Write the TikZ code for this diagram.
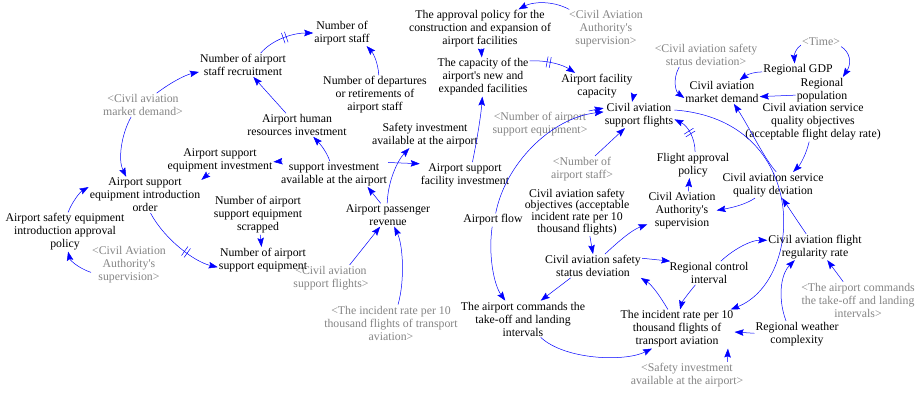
\documentclass[tikz,border=0pt]{standalone}
\usepackage{fontspec}
\setmainfont{Liberation Serif}
\usetikzlibrary{arrows.meta,decorations.markings}

\begin{document}
\begin{tikzpicture}[x=1pt,y=-1pt,
  var/.style={align=center, inner sep=1pt, font=\fontsize{11.8}{13}\selectfont},
  ghost/.style={var, text=black!48},
  arr/.style={draw=blue, line width=0.5pt, -{Stealth[length=9pt,width=6.5pt,inset=1.4pt]}},
  delaymark/.style={postaction={decorate, decoration={markings,
      mark=at position #1 with {\draw[-, blue, line width=0.5pt]
        (-1.6pt,-5.5pt) -- (-1.6pt,5.5pt) (1.6pt,-5.5pt) -- (1.6pt,5.5pt);}}}}
]
\fill[white] (0,0) rectangle (918,393);
\useasboundingbox (0,0) rectangle (918,393);

% ---------- variables ----------
\node[var] (nasr) at (243,65) {Number of airport\\staff recruitment};
\node[var] (nas) at (342,33) {Number of\\airport staff};
\node[var] (ndr) at (375,95) {Number of departures\\or retirements of\\airport staff};
\node[var] (hri) at (297,125) {Airport human\\resources investment};
\node[var] (asei) at (220,160) {Airport support\\equipment investment};
\node[var] (siaa) at (334,174) {support investment\\available at the airport};
\node[var] (aseio) at (145,195) {Airport support\\equipment introduction\\order};
\node[var] (asea) at (65,232) {Airport safety equipment\\introduction approval\\policy};
\node[var] (nases) at (258,215) {Number of airport\\support equipment\\scrapped};
\node[var] (nase) at (263,260) {Number of airport\\support equipment};
\node[var] (apr) at (388,215) {Airport passenger\\revenue};
\node[var] (sia) at (425,135) {Safety investment\\available at the airport};
\node[var] (asfi) at (465,175) {Airport support\\facility investment};
\node[var] (app) at (480,29) {The approval policy for the\\construction and expansion of\\airport facilities};
\node[var] (cap) at (483,77) {The capacity of the\\airport\textquotesingle s new and\\expanded facilities};
\node[var] (afc) at (597,86) {Airport facility\\capacity};
\node[var] (casf) at (639,115) {Civil aviation\\support flights};
\node[var] (af) at (493,220) {Airport flow};
\node[var] (fap) at (693,165) {Flight approval\\policy};
\node[var] (caas) at (682,211) {Civil Aviation\\Authority\textquotesingle s\\supervision};
\node[var, font=\fontsize{11.8}{9.7}\selectfont] (caso) at (577,212)
  {Civil aviation safety\\objectives (acceptable\\incident rate per 10\\thousand flights)};
\node[var] (cassd) at (593,266) {Civil aviation safety\\status deviation};
\node[var] (rci) at (709,273) {Regional control\\interval};
\node[var] (actl) at (523,319) {The airport commands the\\take-off and landing\\intervals};
\node[var] (ir) at (677,329) {The incident rate per 10\\thousand flights of\\transport aviation};
\node[var] (casqd) at (773,185) {Civil aviation service\\quality deviation};
\node[var] (casqo) at (813,122) {Civil aviation service\\quality objectives\\(acceptable flight delay rate)};
\node[var] (rp) at (822,90) {Regional\\population};
\node[var] (gdp) at (798,70) {Regional GDP};
\node[var] (cmd) at (722,92) {Civil aviation\\market demand};
\node[var] (cfr) at (815,247) {Civil aviation flight\\regularity rate};
\node[var] (rwc) at (797,334) {Regional weather\\complexity};

% ---------- shadow variables ----------
\node[ghost] (gmd) at (143,105) {<Civil aviation\\market demand>};
\node[ghost] (gcaasa) at (129,265) {<Civil Aviation\\Authority\textquotesingle s\\supervision>};
\node[ghost] (gcaasb) at (606,29) {<Civil Aviation\\Authority\textquotesingle s\\supervision>};
\node[ghost] (gsf) at (331,278) {<Civil aviation\\support flights>};
\node[ghost] (gir) at (391,323) {<The incident rate per 10\\thousand flights of transport\\aviation>};
\node[ghost] (gnase) at (540,124) {<Number of airport\\support equipment>};
\node[ghost] (gnas) at (582,169) {<Number of\\airport staff>};
\node[ghost] (gsd) at (706,55) {<Civil aviation safety\\status deviation>};
\node[ghost] (gtime) at (821,42) {<Time>};
\node[ghost] (gactl) at (858,300) {<The airport commands\\the take-off and landing\\intervals>};
\node[ghost] (gsia) at (687,375) {<Safety investment\\available at the airport>};

% ---------- links ----------
\draw[arr, delaymark=0.5] (nasr.34) .. controls (272,40) and (292,33) .. (nas.180);
\draw[arr] (ndr.79) .. controls (378,62) and (373,53) .. (nas.-28);
\draw[arr] (hri.133) -- (nasr.-49);
\draw[arr] (gmd.41) .. controls (170,83) and (185,75) .. (nasr.189);
\draw[arr] (gmd.-135) .. controls (121,135) and (118,160) .. (aseio.136);
\draw[arr] (siaa.166) -- (asei.-2);
\draw[arr] (siaa.108) .. controls (327,153) and (322,146) .. (hri.-36);
\draw[arr] (asei.-129) -- (aseio.15);
\draw[arr] (asea.81) .. controls (72,202) and (80,192) .. (aseio.172);
\draw[arr] (gcaasa.191) .. controls (78,268) and (70,260) .. (asea.-81);
\draw[arr, delaymark=0.6] (aseio.-73) .. controls (165,240) and (195,262) .. (nase.189);
\draw[arr] (nases) -- (nase);
\draw[arr] (apr.122) -- (siaa.-21);
\draw[arr] (apr.94) .. controls (388,180) and (398,160) .. (sia.220);
\draw[arr] (gsf.35) -- (apr.236);
\draw[arr] (gir.69) .. controls (405,280) and (403,245) .. (apr.-62);
\draw[arr] (siaa.12) -- (asfi.166);
\draw[arr] (asfi.60) .. controls (477,140) and (481,115) .. (cap.-92);
\draw[arr] (app) -- (cap);
\draw[arr] (gcaasb.152) .. controls (552,0) and (532,2) .. (app.27);
\draw[arr, delaymark=0.4] (cap.19) .. controls (548,60) and (563,65) .. (afc.149);
\draw[arr] (afc.-13) -- (casf.118);
\draw[arr] (gnase.15) -- (casf.169);
\draw[arr] (af.68) .. controls (505,165) and (550,118) .. (casf.175);
\draw[arr] (gnas.45) -- (casf.223);
\draw[arr, delaymark=0.5] (fap.81) .. controls (695,138) and (688,126) .. (casf.-7);
\draw[arr] (caas.72) -- (fap.-105);
\draw[arr] (casqd.216) .. controls (745,205) and (730,208) .. (caas.1);
\draw[arr] (casqo.259) .. controls (806,155) and (800,165) .. (casqd.33);
\draw[arr] (cfr.124) -- (casqd.-55);
\draw[arr] (casf.8) .. controls (810,120) and (805,280) .. (ir.20);
\draw[arr] (casqd.76) .. controls (765,160) and (748,125) .. (cmd.-45);
\draw[arr] (gsd.204) .. controls (672,80) and (676,92) .. (cmd.189);
\draw[arr] (gdp.183) .. controls (755,72) and (748,74) .. (cmd.34);
\draw[arr] (rp.191) -- (cmd.-7);
\draw[arr] (gtime.189) .. controls (796,48) and (794,55) .. (gdp.117);
\draw[arr] (gtime.-13) .. controls (850,52) and (852,63) .. (rp.32);
\draw[arr] (caso.-62) -- (cassd.90);
\draw[arr] (cassd.45) .. controls (620,240) and (632,230) .. (caas.201);
\draw[arr] (cassd.9) -- (rci.163);
\draw[arr] (cassd.208) -- (actl.46);
\draw[arr] (ir.115) .. controls (660,296) and (652,285) .. (cassd.-14);
\draw[arr] (rci.221) .. controls (687,295) and (682,302) .. (ir.81);
\draw[arr] (rci.45) .. controls (735,248) and (752,240) .. (cfr.172);
\draw[arr] (actl.-46) .. controls (565,360) and (625,362) .. (ir.218);
\draw[arr] (gactl.129) -- (cfr.-47);
\draw[arr] (rwc.130) .. controls (778,300) and (780,275) .. (cfr.213);
\draw[arr] (rwc.179) -- (ir.-3);
\draw[arr] (gsia.18) -- (ir.-21);
\draw[arr] (af.-97) .. controls (488,255) and (494,285) .. (actl.134);
\end{tikzpicture}
\end{document}
